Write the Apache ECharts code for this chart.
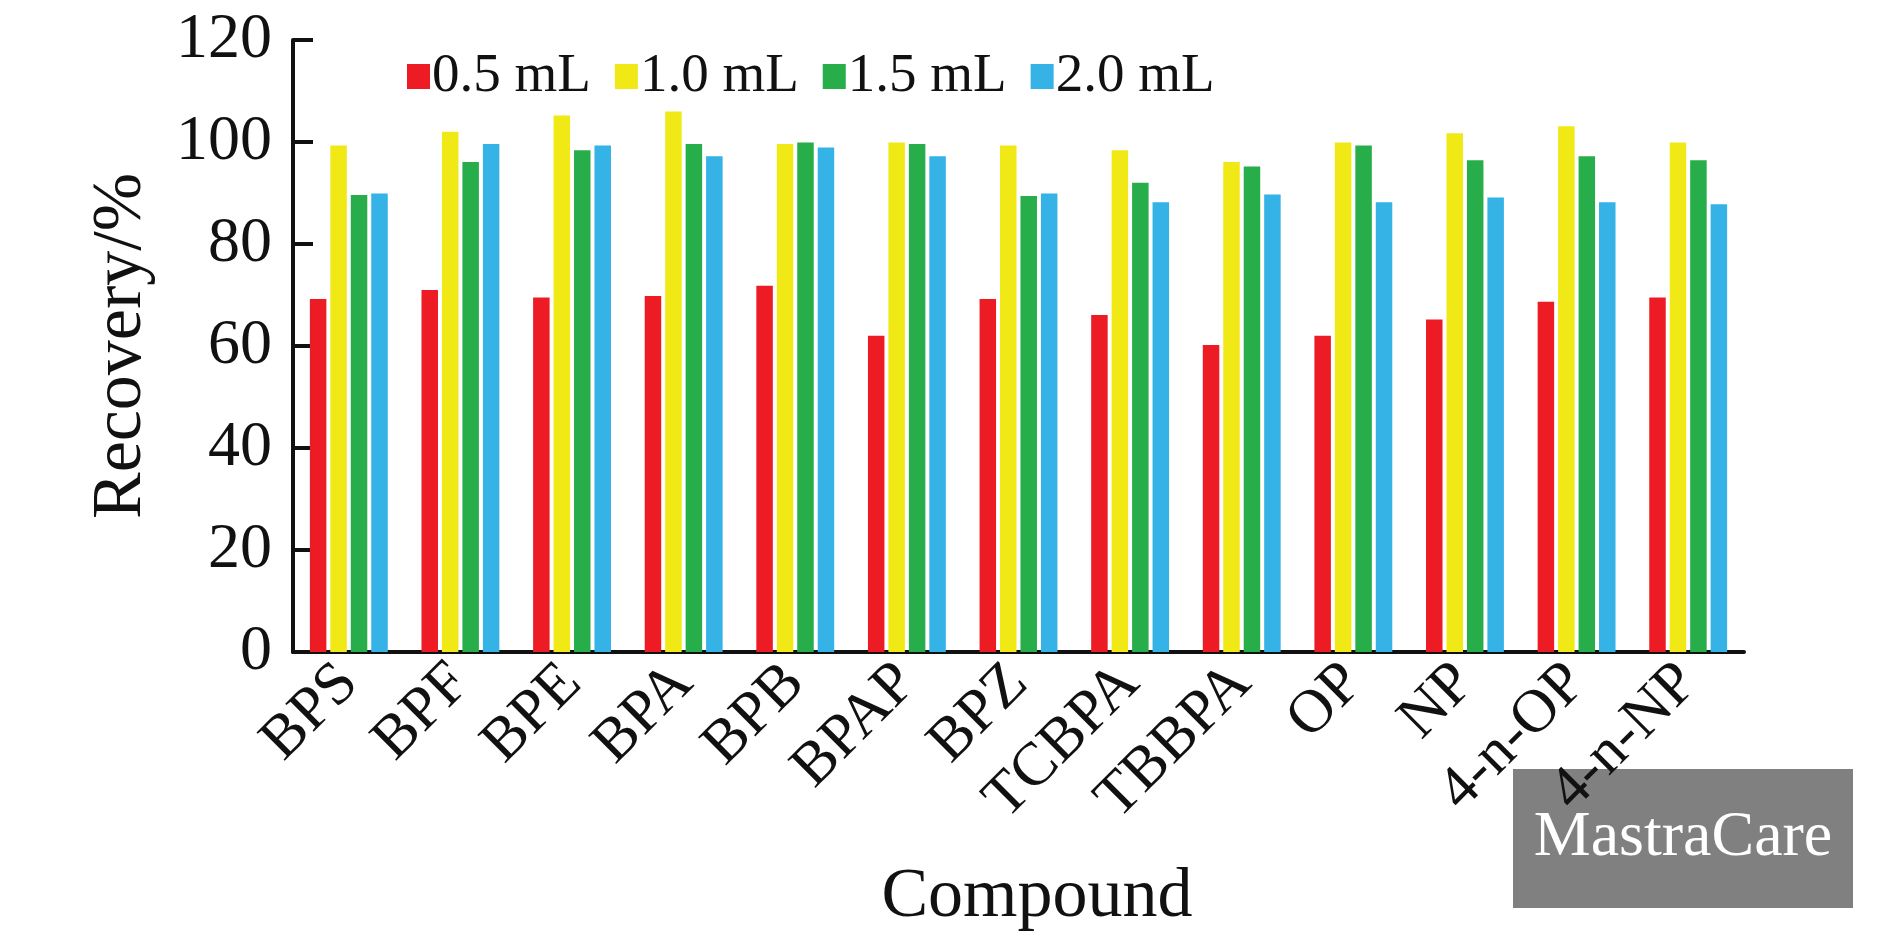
<!DOCTYPE html>
<html>
<head>
<meta charset="utf-8">
<script src="https://cdn.jsdelivr.net/npm/echarts@6/dist/echarts.min.js"></script>
<style>
html,body{margin:0;padding:0;background:#fff;}
#chart{width:1890px;height:945px;}
</style>
</head>
<body>
<div id="chart"></div>
<script>
const categories = ['BPS','BPF','BPE','BPA','BPB','BPAP','BPZ','TCBPA','TBBPA','OP','NP','4-n-OP','4-n-NP'];
const seriesNames = ['0.5 mL','1.0 mL','1.5 mL','2.0 mL'];
const vol05 = [69.2, 71.0, 69.5, 69.8, 71.8, 62.0, 69.2, 66.1, 60.2, 62.0, 65.2, 68.7, 69.5];
const vol10 = [99.3, 102.0, 105.2, 106.0, 99.6, 99.9, 99.3, 98.4, 96.1, 99.9, 101.7, 103.1, 99.9];
const vol15 = [89.6, 96.1, 98.4, 99.6, 99.9, 99.6, 89.4, 92.0, 95.2, 99.3, 96.4, 97.2, 96.4];
const vol20 = [89.9, 99.6, 99.3, 97.2, 98.9, 97.2, 89.9, 88.2, 89.7, 88.2, 89.1, 88.2, 87.8];
const yTicks = [0, 20, 40, 60, 80, 100, 120];

const colors = ['#ED1C24', '#F0E916', '#27AE4A', '#35B2E6'];
const serif = '"Liberation Serif", "Times New Roman", "DejaVu Serif", serif';
const allData = [vol05, vol10, vol15, vol20];

const chart = echarts.init(document.getElementById('chart'));
chart.setOption({
  backgroundColor: '#ffffff',
  color: colors,
  animation: false,
  textStyle: { fontFamily: serif },
  legend: {
    data: seriesNames,
    left: 402,
    top: 44,
    itemWidth: 23,
    itemHeight: 25,
    itemGap: 24,
    icon: 'rect',
    textStyle: { fontFamily: serif, fontSize: 55, color: '#111', padding: [0, 0, 0, -3] }
  },
  grid: { left: 293, right: 146, top: 40, bottom: 293, containLabel: false },
  xAxis: {
    type: 'category',
    data: categories,
    axisLine: { show: true, lineStyle: { color: '#111', width: 4 } },
    axisTick: { show: false },
    axisLabel: {
      rotate: 45,
      interval: 0,
      margin: 22,
      fontFamily: serif,
      fontSize: 61,
      color: '#111'
    }
  },
  yAxis: {
    type: 'value',
    min: 0,
    max: 120,
    interval: 20,
    name: 'Recovery/%',
    nameLocation: 'middle',
    nameGap: 136,
    nameTextStyle: { fontFamily: serif, fontSize: 70, color: '#111' },
    axisLine: { show: true, lineStyle: { color: '#111', width: 4 } },
    axisTick: { show: true, inside: true, length: 20, lineStyle: { color: '#111', width: 4 } },
    splitLine: { show: false },
    axisLabel: {
      margin: 21,
      fontFamily: serif,
      fontSize: 64,
      color: '#111',
      formatter: function (v) { return yTicks.indexOf(v) >= 0 ? String(v) : ''; }
    }
  },
  graphic: [
    {
      type: 'text',
      x: 1037,
      y: 898,
      z: 10,
      style: { text: 'Compound', font: '70px ' + serif, fill: '#111', textAlign: 'center', textVerticalAlign: 'middle' }
    },
    {
      type: 'rect',
      z: -10,
      silent: true,
      shape: { x: 1513, y: 769, width: 340, height: 139 },
      style: { fill: '#808080' }
    },
    {
      type: 'text',
      z: -9,
      silent: true,
      x: 1683,
      y: 838,
      style: { text: 'MastraCare', font: '64px ' + serif, fill: '#ffffff', textAlign: 'center', textVerticalAlign: 'middle' }
    }
  ],
  series: seriesNames.map(function (name, i) {
    return {
      name: name,
      type: 'bar',
      data: allData[i],
      barWidth: 16.5,
      barGap: '24%',
      barCategoryGap: '30%',
      itemStyle: { color: colors[i] }
    };
  })
});
</script>
</body>
</html>
